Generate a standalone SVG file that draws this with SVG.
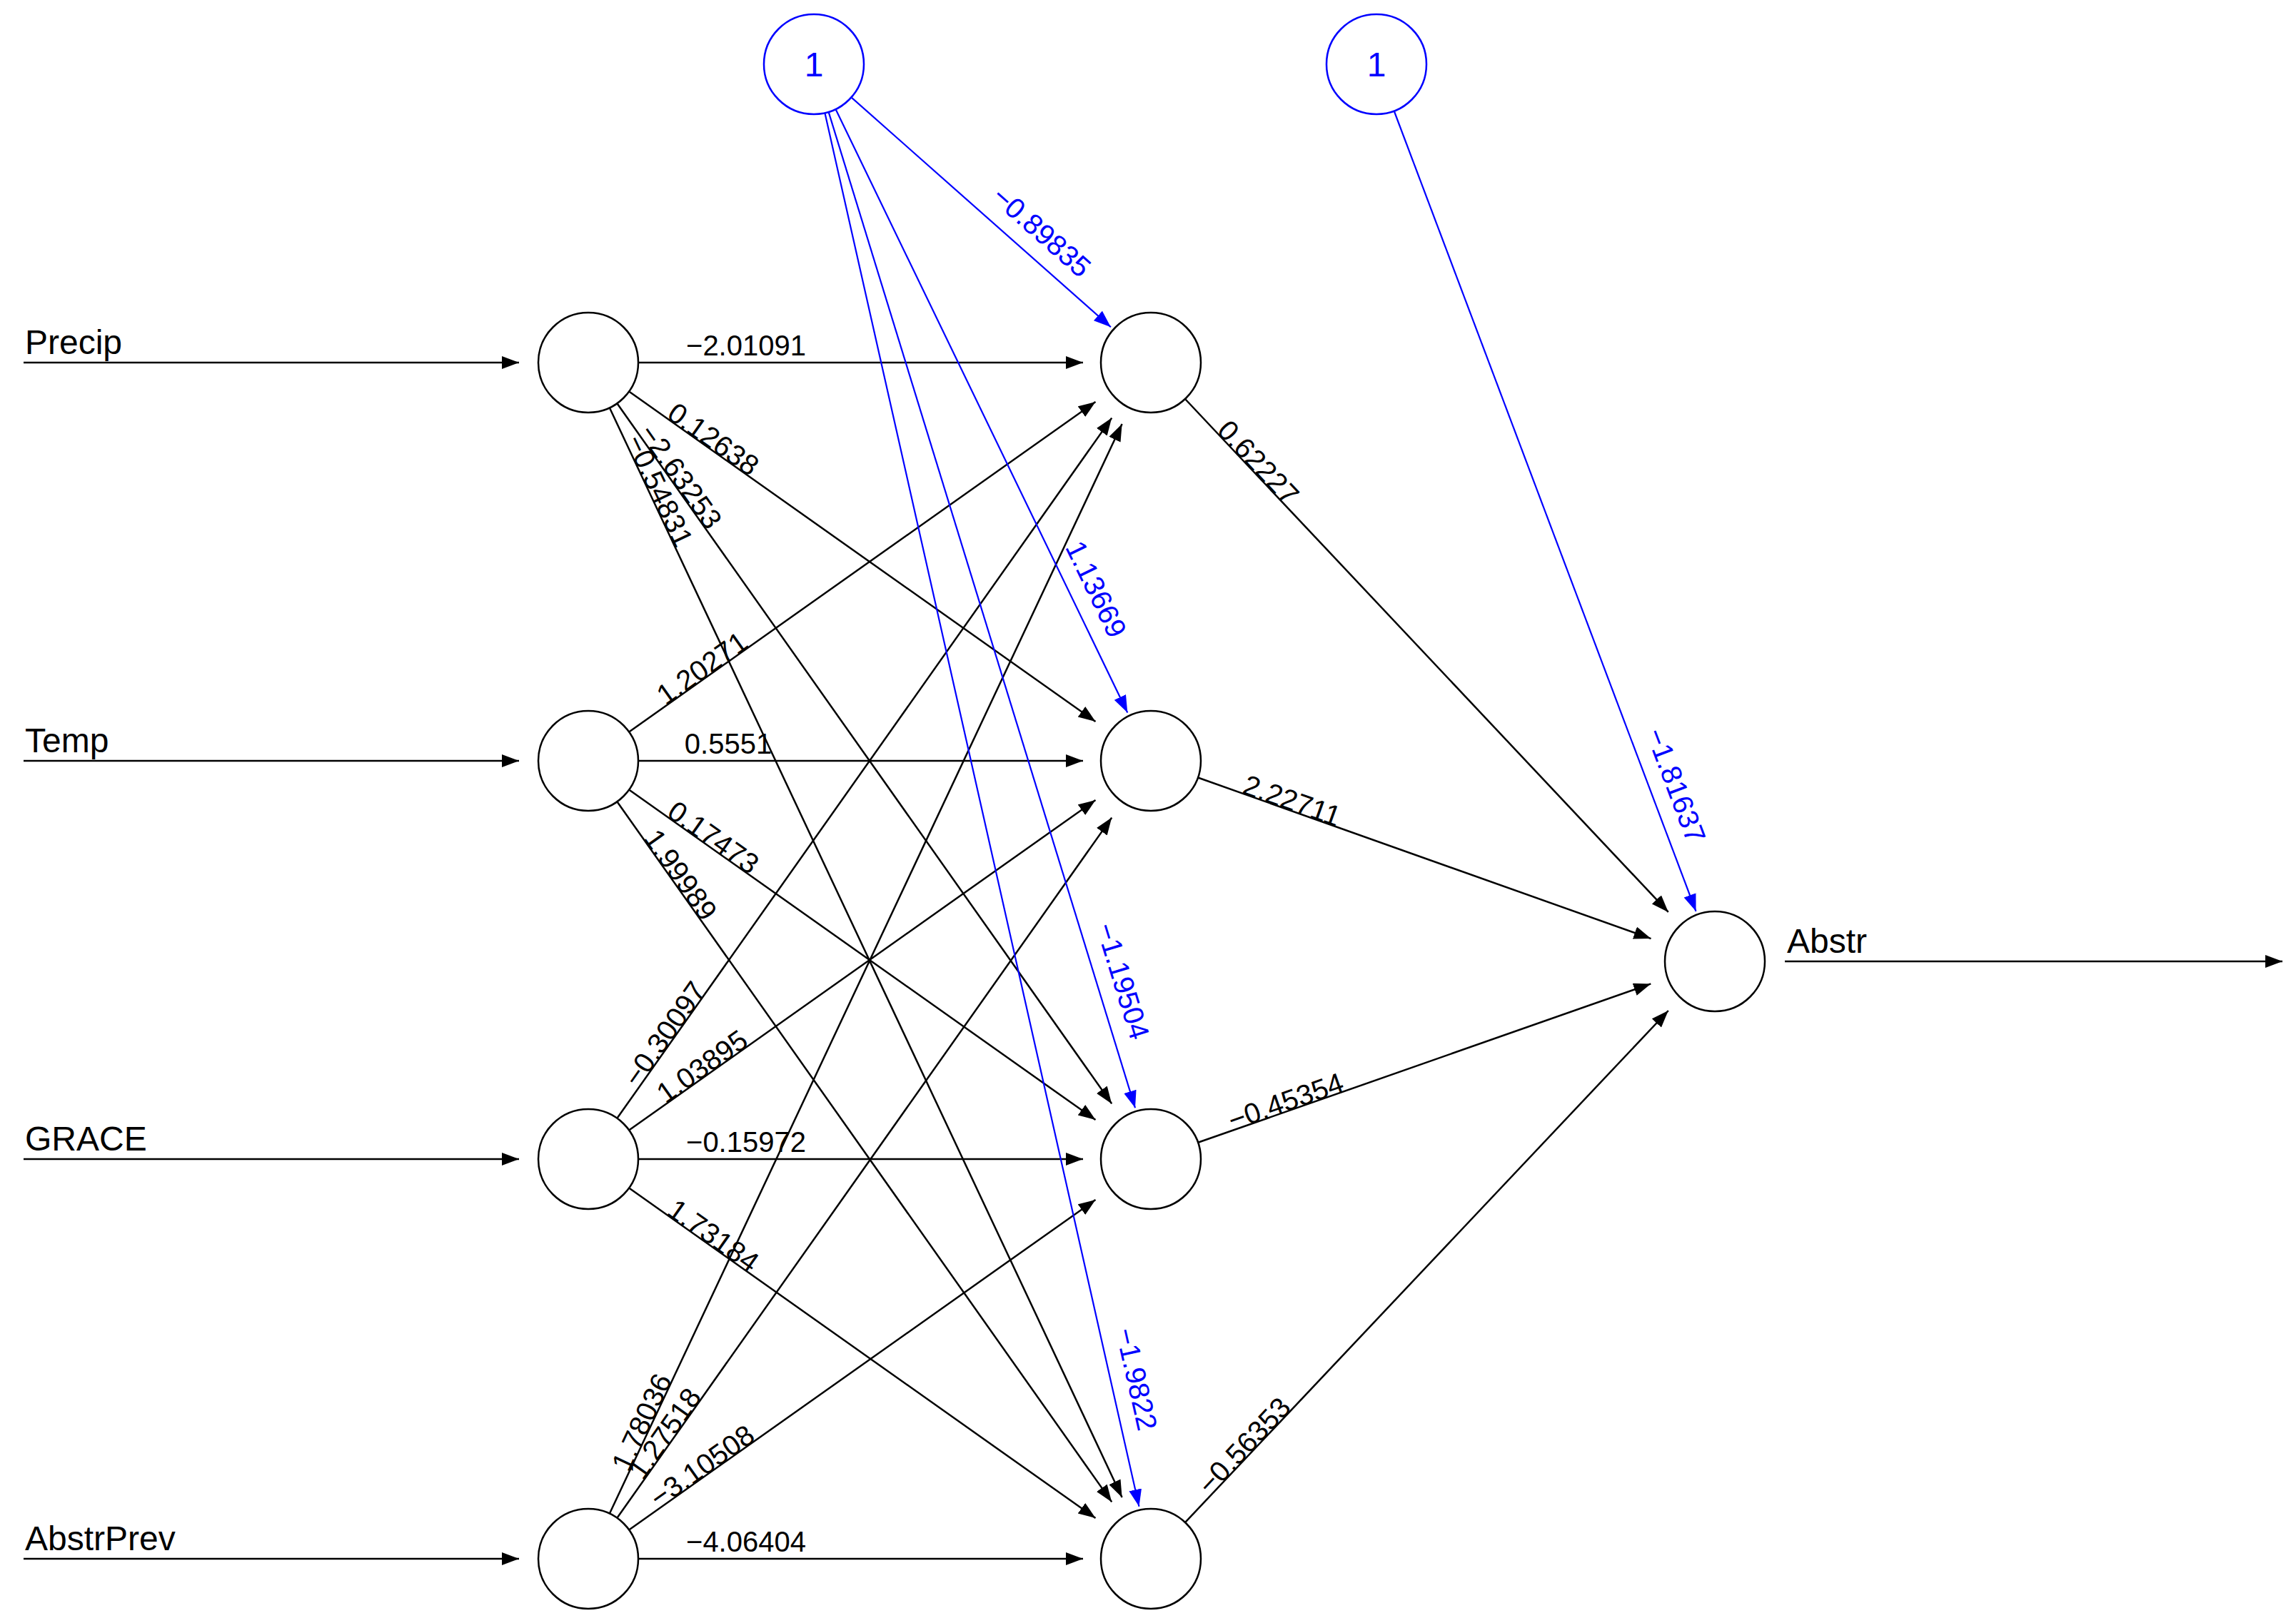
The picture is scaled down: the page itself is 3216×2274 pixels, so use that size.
<svg xmlns="http://www.w3.org/2000/svg" width="3216" height="2274" viewBox="0 0 3216 2274">
<style>
.n{fill:#fff;stroke:#000;stroke-width:2.5}
.b{fill:#fff;stroke:#00f;stroke-width:2.5}
.e{stroke:#000;stroke-width:2.5;fill:none;marker-end:url(#ak)}
.eb{stroke:#00f;stroke-width:2.2;fill:none;marker-end:url(#ab)}
.t{font-family:"Liberation Sans",Arial,sans-serif;font-size:48px;fill:#000}
.w{font-family:"Liberation Sans",Arial,sans-serif;font-size:40px;fill:#000;text-anchor:middle}
.wb{font-family:"Liberation Sans",Arial,sans-serif;font-size:40px;fill:#00f;text-anchor:middle}
</style>
<defs>
<marker id="ak" markerUnits="userSpaceOnUse" markerWidth="26" markerHeight="20" refX="24" refY="9" orient="auto"><path d="M0,0 L24,9 L0,18 Z" fill="#000"/></marker>
<marker id="ab" markerUnits="userSpaceOnUse" markerWidth="26" markerHeight="20" refX="24" refY="9" orient="auto"><path d="M0,0 L24,9 L0,18 Z" fill="#00f"/></marker>
</defs>
<rect width="3216" height="2274" fill="#fff"/>
<g id="connectors">
<line class="e" x1="33" y1="508" x2="727" y2="508"/>
<line class="e" x1="33" y1="1066" x2="727" y2="1066"/>
<line class="e" x1="33" y1="1624" x2="727" y2="1624"/>
<line class="e" x1="33" y1="2184" x2="727" y2="2184"/>
<line class="e" x1="2500" y1="1347" x2="3197" y2="1347"/>
<line class="e" x1="894" y1="508" x2="1517" y2="508"/>
<line class="e" x1="881.1" y1="548.5" x2="1534.5" y2="1011.1"/>
<line class="e" x1="864.4" y1="565.2" x2="1557.2" y2="1546.4"/>
<line class="e" x1="853.8" y1="571.3" x2="1571.6" y2="2098"/>
<line class="e" x1="881.1" y1="1025.5" x2="1534.5" y2="562.9"/>
<line class="e" x1="894" y1="1066" x2="1517" y2="1066"/>
<line class="e" x1="881.1" y1="1106.5" x2="1534.5" y2="1569.1"/>
<line class="e" x1="864.4" y1="1123.2" x2="1557.2" y2="2104.4"/>
<line class="e" x1="864.4" y1="1566.8" x2="1557.2" y2="585.6"/>
<line class="e" x1="881.1" y1="1583.5" x2="1534.5" y2="1120.9"/>
<line class="e" x1="894" y1="1624" x2="1517" y2="1624"/>
<line class="e" x1="881.1" y1="1664.5" x2="1534.5" y2="2127.1"/>
<line class="e" x1="853.8" y1="2120.7" x2="1571.6" y2="594"/>
<line class="e" x1="864.4" y1="2126.8" x2="1557.2" y2="1145.6"/>
<line class="e" x1="881.1" y1="2143.5" x2="1534.5" y2="1680.9"/>
<line class="e" x1="894" y1="2184" x2="1517" y2="2184"/>
<line class="e" x1="1660" y1="559" x2="2336.8" y2="1277.9"/>
<line class="e" x1="1678" y1="1089.5" x2="2312.5" y2="1315.1"/>
<line class="e" x1="1678.1" y1="1600.8" x2="2312.3" y2="1378.4"/>
<line class="e" x1="1660" y1="2133.1" x2="2336.8" y2="1416"/>
<line class="eb" x1="1192.4" y1="136.4" x2="1555.9" y2="458.3"/>
<line class="eb" x1="1170.5" y1="153" x2="1579.3" y2="998.5"/>
<line class="eb" x1="1160.6" y1="156.9" x2="1590" y2="1552.3"/>
<line class="eb" x1="1155.4" y1="158.3" x2="1595.5" y2="2110.8"/>
<line class="eb" x1="1952.7" y1="155.5" x2="2375.5" y2="1276.8"/>
<text class="w" x="1045" y="498">−2.01091</text>
<text class="w" transform="translate(991.3,626.5) rotate(35.3)">0.12638</text>
<text class="w" transform="translate(942.2,675.5) rotate(54.78)">−2.63253</text>
<text class="w" transform="translate(911.2,693.5) rotate(64.82)">−0.54831</text>
<text class="w" transform="translate(991.3,947.5) rotate(-35.3)">1.20271</text>
<text class="w" x="1020" y="1056">0.5551</text>
<text class="w" transform="translate(991.3,1184.5) rotate(35.3)">0.17473</text>
<text class="w" transform="translate(942.2,1233.5) rotate(54.78)">1.99989</text>
<text class="w" transform="translate(942.2,1456.5) rotate(-54.78)">−0.30097</text>
<text class="w" transform="translate(991.3,1505.5) rotate(-35.3)">1.03895</text>
<text class="w" x="1045" y="1614">−0.15972</text>
<text class="w" transform="translate(991.3,1742.5) rotate(35.3)">1.73184</text>
<text class="w" transform="translate(911.2,1998.5) rotate(-64.82)">1.78036</text>
<text class="w" transform="translate(942.2,2016.5) rotate(-54.78)">1.27518</text>
<text class="w" transform="translate(991.3,2065.5) rotate(-35.3)">−3.10508</text>
<text class="w" x="1045" y="2174">−4.06404</text>
<text class="w" transform="translate(1752.5,657.3) rotate(46.72)">0.62227</text>
<text class="w" transform="translate(1805.2,1134.7) rotate(19.58)">2.22711</text>
<text class="w" transform="translate(1805.4,1556.2) rotate(-19.33)">−0.45354</text>
<text class="w" transform="translate(1752.7,2034.9) rotate(-46.67)">−0.56353</text>
<text class="wb" transform="translate(1435.3,351.5) rotate(41.53)" dy="-22">−0.89835</text>
<text class="wb" transform="translate(1503.2,841.1) rotate(64.19)" dy="-22">1.13669</text>
<text class="wb" transform="translate(1538.5,1385.1) rotate(72.9)" dy="-22">−1.19504</text>
<text class="wb" transform="translate(1557,1940.1) rotate(77.3)" dy="-22">−1.9822</text>
<text class="wb" transform="translate(2313.8,1113.1) rotate(69.34)" dy="-22">−1.81637</text>
</g>
<g id="in1"><circle class="n" cx="824" cy="508" r="70"/><text class="t" x="35" y="496">Precip</text></g>
<g id="in2"><circle class="n" cx="824" cy="1066" r="70"/><text class="t" x="35" y="1054">Temp</text></g>
<g id="in3"><circle class="n" cx="824" cy="1624" r="70"/><text class="t" x="35" y="1612">GRACE</text></g>
<g id="in4"><circle class="n" cx="824" cy="2184" r="70"/><text class="t" x="35" y="2172">AbstrPrev</text></g>
<g id="h1"><circle class="n" cx="1612" cy="508" r="70"/></g>
<g id="h2"><circle class="n" cx="1612" cy="1066" r="70"/></g>
<g id="h3"><circle class="n" cx="1612" cy="1624" r="70"/></g>
<g id="h4"><circle class="n" cx="1612" cy="2184" r="70"/></g>
<g id="out"><circle class="n" cx="2402" cy="1347" r="70"/><text class="t" x="2503" y="1335">Abstr</text></g>
<g id="bias1"><circle class="b" cx="1140" cy="90" r="70"/><text class="wb" x="1140" y="107" style="font-size:48px">1</text></g>
<g id="bias2"><circle class="b" cx="1928" cy="90" r="70"/><text class="wb" x="1928" y="107" style="font-size:48px">1</text></g>
</svg>
